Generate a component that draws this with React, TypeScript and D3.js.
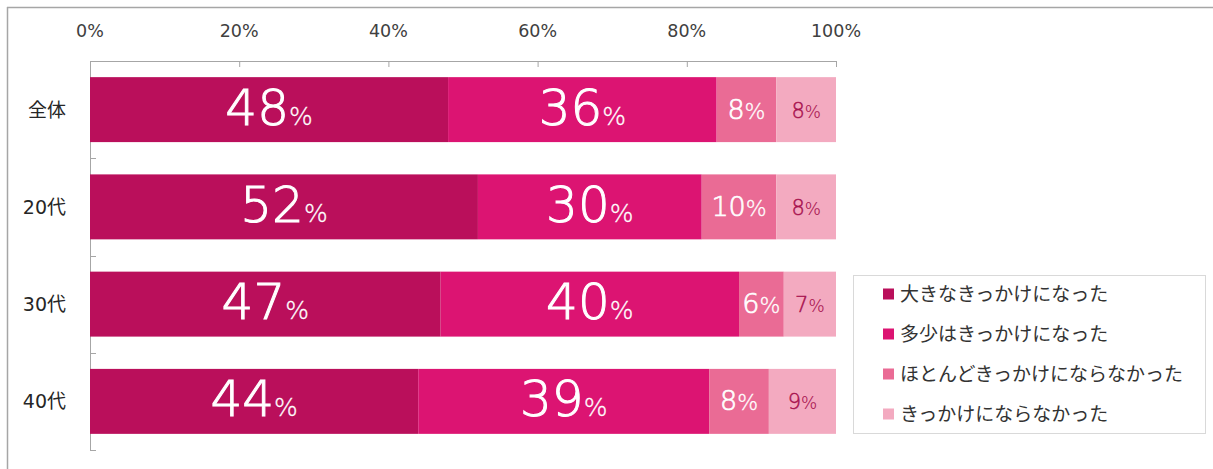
import React from "react";
import * as d3 from "d3";

const categories = ["全体", "20代", "30代", "40代"];
const seriesNames = [
  "大きなきっかけになった",
  "多少はきっかけになった",
  "ほとんどきっかけにならなかった",
  "きっかけにならなかった",
];
const s1 = [48, 52, 47, 44];
const s2 = [36, 30, 40, 39];
const s3 = [8, 10, 6, 8];
const s4 = [8, 8, 7, 9];
const tickValues = [0, 20, 40, 60, 80, 100];
const colors = ["#BA0F5B", "#DC1472", "#EA6B95", "#F3AAC0"];

const W = 1213;
const H = 469;

export default function App() {
  const x = d3.scaleLinear().domain([0, 100]).range([90, 836]);
  const y = d3
    .scaleBand<string>()
    .domain(categories)
    .range([61, 450])
    .paddingInner(0.332)
    .paddingOuter(0.166);

  const rows = categories.map((c, i) => ({ cat: c, vals: [s1[i], s2[i], s3[i], s4[i]] }));
  const stack = d3.stack<any>().keys(["0", "1", "2", "3"]).value((d: any, k: string) => d.vals[+k]);
  const stacked = stack(rows);

  const numFont = "'DejaVu Sans', 'Noto Sans CJK JP', sans-serif";
  const jpFont = "'Noto Sans CJK JP', sans-serif";
  const step = y.step();

  const labelStyle = (si: number) => {
    if (si < 2) return { n: 50, p: 25, dy: 15, fill: "#ffffff", sw: 1, psw: 0.3 };
    if (si === 2) return { n: 27, p: 22, dy: 9, fill: "#ffffff", sw: 0.7, psw: 0.3 };
    return { n: 21, p: 17, dy: 8, fill: "#A8124F", sw: 0.45, psw: 0.15 };
  };

  return (
    <svg
      width={W}
      height={H}
      style={{ position: "absolute", left: 0, top: 0, background: "#fff" }}
    >
      <rect x={0} y={0} width={W} height={H} fill="#ffffff" />
      {/* outer frame */}
      <line x1={7} y1={7.5} x2={W} y2={7.5} stroke="#a6a6a6" strokeWidth={1.5} />
      <line x1={7.5} y1={7} x2={7.5} y2={H} stroke="#a6a6a6" strokeWidth={1.5} />

      {/* top axis */}
      <line x1={x(0)} y1={61.5} x2={x(100)} y2={61.5} stroke="#a6a6a6" strokeWidth={1} />
      {tickValues.map((t) => (
        <g key={t}>
          <line x1={x(t) + 0.5} y1={61} x2={x(t) + 0.5} y2={67} stroke="#a6a6a6" strokeWidth={1} />
          <text
            x={x(t)}
            y={37}
            textAnchor="middle"
            fontFamily={numFont}
            fontSize={17.5}
            fill="#404040"
          >
            {t}%
          </text>
        </g>
      ))}

      {/* left axis */}
      <line x1={90.5} y1={61} x2={90.5} y2={450} stroke="#a6a6a6" strokeWidth={1} />
      {d3.range(categories.length + 1).map((i) => {
        const yy = Math.round(61 + i * step) + 0.5;
        return <line key={i} x1={90} y1={yy} x2={96} y2={yy} stroke="#a6a6a6" strokeWidth={1} />;
      })}

      {/* category labels */}
      {categories.map((c) => (
        <text
          key={c}
          x={66}
          y={(y(c) as number) + y.bandwidth() / 2 + 7}
          textAnchor="end"
          fontFamily={numFont}
          fontSize={19}
          fill="#262626"
        >
          {c}
        </text>
      ))}

      {/* bars */}
      {stacked.map((layer, si) => (
        <g key={si}>
          {layer.map((d: any, ri: number) => {
            const x0 = x(d[0]);
            const x1 = x(d[1]);
            const yy = y(d.data.cat) as number;
            const st = labelStyle(si);
            const v = d.data.vals[si];
            return (
              <g key={ri}>
                <rect x={x0} y={yy} width={x1 - x0} height={y.bandwidth()} fill={colors[si]} />
                <text
                  x={(x0 + x1) / 2}
                  y={yy + y.bandwidth() / 2 + st.dy}
                  textAnchor="middle"
                  fontFamily={numFont}
                  fontWeight={300}
                  fill={st.fill}
                  stroke={st.fill}
                >
                  <tspan fontSize={st.n} strokeWidth={st.sw}>{v}</tspan>
                  <tspan fontSize={st.p} strokeWidth={st.psw}>%</tspan>
                </text>
              </g>
            );
          })}
        </g>
      ))}

      {/* legend */}
      <rect x={853.5} y={275.5} width={352} height={158} fill="#ffffff" stroke="#d9d9d9" strokeWidth={1} />
      {seriesNames.map((n, i) => {
        const cy = 294 + i * 40;
        return (
          <g key={n}>
            <rect x={883} y={cy - 5.5} width={11} height={11} fill={colors[i]} />
            <text x={900} y={cy + 6.5} fontFamily={jpFont} fontSize={19} fill="#333333">
              {n}
            </text>
          </g>
        );
      })}
    </svg>
  );
}
